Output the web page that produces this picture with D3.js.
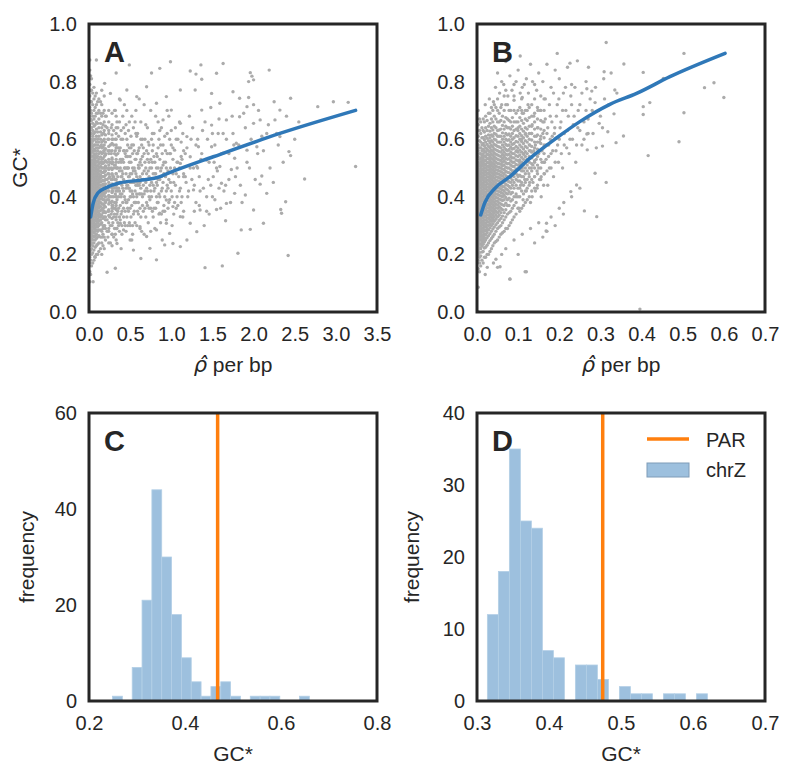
<!DOCTYPE html>
<html>
<head>
<meta charset="utf-8">
<script src="https://cdn.jsdelivr.net/npm/d3@7"></script>
<style>
body{margin:0;background:#fff}
svg text{font-family:"Liberation Sans",Arial,sans-serif;fill:#262626}
</style>
</head>
<body>
<svg id="fig" width="800" height="777"></svg>
<script>
// ---- data ----
// panel A : rho per bp (x) vs GC* (y); dense part near x=0 kept as columns [x, [y...]]
var colsA = [
  [.01, [.105,.14,.17,.19,.21,.23,.245,.26,.27,.28,.29,.3,.31,.32,.33,.34,.35,.36,.37,.38,.39,.4,.41,.42,.43,.44,.45,.46,.47,.48,.49,.5,.51,.52,.53,.545,.56,.575,.59,.61,.63,.65,.68,.71,.75,.79,.84,.875]],
  [.02, [.13,.18,.215,.235,.25,.265,.275,.285,.295,.305,.315,.325,.335,.345,.355,.365,.375,.385,.395,.405,.415,.425,.435,.445,.455,.465,.475,.485,.495,.505,.515,.525,.537,.55,.565,.58,.6,.62,.64,.67,.7,.73,.77,.82]],
  [.03, [.16,.2,.22,.24,.255,.265,.275,.285,.295,.305,.315,.325,.335,.345,.355,.365,.375,.385,.395,.405,.415,.425,.435,.445,.455,.465,.475,.485,.495,.505,.515,.525,.54,.555,.57,.585,.6,.62,.64,.665,.69,.73,.77,.81]],
  [.045, [.17,.205,.23,.25,.265,.28,.295,.305,.315,.325,.335,.345,.355,.365,.375,.385,.395,.405,.415,.425,.435,.445,.455,.465,.475,.485,.495,.505,.515,.528,.542,.558,.575,.593,.61,.63,.655,.68,.72,.76]],
  [.06, [.18,.215,.24,.26,.275,.29,.3,.31,.32,.33,.34,.35,.36,.37,.38,.39,.4,.41,.42,.43,.44,.45,.46,.47,.48,.49,.5,.51,.52,.535,.55,.565,.58,.6,.62,.645,.67,.7,.74,.78]],
  [.075, [.19,.225,.25,.265,.28,.293,.305,.318,.33,.34,.35,.36,.37,.38,.39,.4,.41,.42,.43,.44,.45,.46,.47,.48,.49,.5,.512,.527,.543,.56,.58,.6,.625,.65,.68,.71,.75]],
  [.09, [.2,.23,.255,.27,.285,.3,.315,.325,.335,.345,.355,.365,.375,.385,.395,.405,.415,.425,.435,.445,.455,.465,.475,.485,.495,.505,.52,.535,.55,.57,.59,.61,.635,.66,.69,.72,.76]],
  [.105, [.2,.235,.26,.28,.295,.308,.322,.336,.35,.362,.374,.386,.398,.41,.422,.434,.446,.458,.47,.482,.494,.508,.523,.54,.56,.58,.6,.625,.655,.69,.73]],
  [.12, [.21,.24,.265,.285,.3,.315,.33,.345,.36,.37,.38,.39,.4,.41,.42,.43,.44,.45,.46,.47,.48,.49,.5,.515,.53,.55,.57,.59,.61,.64,.67,.7,.74]],
  [.14, [.22,.26,.285,.305,.32,.338,.352,.366,.38,.392,.404,.416,.428,.44,.452,.464,.476,.49,.505,.52,.538,.556,.576,.6,.625,.655,.69,.73]],
  [.155, [.2,.24,.28,.31,.335,.355,.375,.395,.41,.425,.44,.455,.47,.485,.5,.515,.53,.55,.57,.59,.615,.64,.68,.72,.77]],
  [.17, [.23,.27,.3,.325,.345,.36,.375,.39,.405,.418,.431,.444,.457,.47,.484,.5,.516,.533,.552,.572,.595,.62,.65,.69]],
  [.185, [.22,.26,.3,.33,.35,.37,.39,.41,.425,.44,.455,.47,.485,.5,.52,.54,.56,.58,.6,.63,.66,.7,.75]],
  [.2, [.25,.29,.32,.345,.365,.383,.4,.415,.43,.445,.46,.475,.49,.507,.525,.545,.567,.59,.615,.645,.68]],
  [.24, [.24,.28,.31,.335,.355,.375,.39,.405,.42,.435,.45,.465,.48,.495,.51,.53,.55,.575,.6,.63,.66,.7]],
  [.28, [.23,.27,.3,.325,.35,.37,.385,.4,.415,.43,.445,.46,.478,.495,.515,.535,.56,.585,.615,.65,.69]],
  [.33, [.25,.29,.33,.355,.38,.4,.42,.44,.46,.48,.5,.52,.545,.57,.6,.64,.68]]
];
var ptsA = [
  [.22,.32],[.22,.52],[.22,.39],[.23,.48],[.23,.26],[.23,.56],[.24,.35],[.24,.44],[.24,.62],[.25,.38],[.25,.47],[.25,.52],[.26,.3],[.26,.4],[.26,.58],[.27,.34],[.27,.5],[.27,.55],[.28,.42],[.28,.27],[.28,.6],[.29,.37],[.29,.47],[.29,.52],[.3,.33],[.3,.4],[.3,.5],[.31,.43],[.31,.55],[.31,.29],[.32,.36],[.32,.46],[.32,.6],[.33,.44],[.33,.53],[.33,.32],[.34,.39],[.34,.5],[.34,.57],[.35,.35],[.35,.47],[.35,.64],[.36,.4],[.36,.52],[.37,.45],[.37,.56],[.37,.28],[.38,.41],[.38,.5],[.39,.34],[.39,.47],[.39,.6],[.4,.44],[.4,.53],[.4,.3],
  [.41,.38],[.41,.53],[.42,.46],[.42,.64],[.43,.4],[.43,.5],[.44,.35],[.44,.55],[.45,.43],[.45,.48],[.46,.33],[.46,.6],[.47,.44],[.47,.54],[.48,.39],[.48,.5],[.49,.57],[.49,.47],[.5,.42],[.5,.3],[.51,.52],[.51,.45],[.52,.37],[.52,.58],[.53,.5],[.53,.41],[.54,.34],[.54,.46],[.55,.56],[.56,.49],[.56,.38],[.57,.44],[.57,.53],[.58,.41],[.58,.61],[.59,.35],[.6,.46],[.6,.56],[.61,.5],[.62,.36],[.62,.45],[.63,.53],[.64,.41],[.64,.58],[.65,.48],[.66,.44],[.67,.55],[.68,.42],[.69,.5],[.7,.38],
  [.71,.46],[.72,.55],[.73,.4],[.74,.5],[.75,.36],[.76,.45],[.77,.52],[.78,.58],[.79,.42],[.8,.48],[.81,.36],[.82,.55],[.83,.44],[.84,.5],[.85,.6],[.86,.4],[.87,.49],[.88,.34],[.89,.55],[.9,.45],[.91,.52],[.92,.4],[.94,.5],[.95,.62],[.96,.36],[.97,.46],[.99,.55],[1.0,.42],[1.02,.53],[1.04,.38],[1.06,.48],[1.08,.6],[1.1,.5],[1.12,.38],[1.15,.56],
  [.3,.26],[.3,.47],[.3,.63],[.31,.34],[.31,.51],[.32,.41],[.32,.7],[.33,.37],[.33,.58],[.34,.43],[.34,.66],[.35,.31],[.35,.5],[.36,.36],[.36,.57],[.37,.42],[.37,.74],[.38,.32],[.38,.53],[.39,.4],[.39,.63],[.4,.27],[.4,.49],[.41,.43],[.41,.68],[.42,.36],[.42,.56],[.43,.31],[.43,.45],[.44,.5],[.44,.62],[.45,.38],[.45,.54],[.46,.44],[.46,.7],[.47,.3],[.47,.58],[.48,.47],[.48,.35],[.49,.52],[.49,.66],[.5,.4],[.5,.45],[.51,.33],[.51,.61],[.52,.48],[.52,.42],[.53,.55],[.53,.27],[.54,.4],[.54,.64],[.55,.45],[.55,.38],[.56,.53],[.56,.31],[.57,.48],[.57,.7],[.58,.4],[.58,.55],[.59,.44],[.59,.62],[.6,.34],[.6,.5],[.61,.41],[.61,.57],[.62,.47],[.62,.29],[.63,.43],[.63,.66],[.64,.51],
  [.65,.37],[.65,.6],[.66,.46],[.67,.41],[.67,.72],[.68,.52],[.69,.33],[.69,.45],[.7,.56],[.71,.42],[.71,.64],[.72,.49],[.73,.36],[.73,.58],[.74,.44],[.75,.53],[.75,.28],[.76,.4],[.77,.62],[.78,.48],[.79,.36],[.79,.54],[.8,.43],[.81,.68],[.82,.5],[.83,.38],[.84,.46],[.84,.57],[.85,.41],[.86,.53],[.87,.31],[.88,.47],[.88,.64],[.89,.43],[.9,.58],[.91,.48],[.92,.35],[.93,.52],[.94,.42],[.95,.7],[.96,.49],[.97,.38],[.98,.55],[.99,.45],[1.0,.63],[1.01,.4],[1.02,.57],[1.03,.34],[1.04,.5],[1.05,.44],[1.06,.6],[1.07,.52],[1.08,.37],[1.09,.47],[1.1,.66],[1.11,.43],[1.12,.54],[1.13,.4],[1.14,.62],[1.15,.35],
  [1.17,.47],[1.19,.57],[1.21,.42],[1.23,.5],[1.26,.64],[1.28,.44],[1.3,.38],[1.32,.6],[1.34,.47],[1.37,.55],[1.39,.43],[1.41,.66],[1.43,.35],[1.46,.52],[1.48,.44],[1.5,.62],[1.53,.39],[1.55,.5],[1.58,.67],[1.61,.55],[1.64,.42],[1.67,.6],[1.7,.46],[1.72,.38],[1.76,.58],[1.8,.5],[1.84,.44],[1.88,.69],[1.92,.52],[1.97,.6],[2.02,.46],[2.06,.7],[2.12,.56],[2.18,.65],[2.24,.45],[2.28,.62],[2.36,.52],[2.4,.68],[2.5,.6],[2.55,.66],
  [.14,.33],[.15,.47],[.15,.58],[.16,.26],[.16,.4],[.17,.52],[.17,.36],[.18,.44],[.18,.62],[.19,.3],[.19,.49],[.2,.38],[.2,.55],[.21,.42],[.21,.68],[.22,.28],[.22,.46],[.23,.35],[.23,.6],[.24,.5],[.24,.4],[.25,.33],[.25,.56],[.26,.44],[.26,.24],[.27,.64],[.27,.38],[.28,.48],[.28,.53],[.29,.31],[.29,.42],[.3,.58],[.3,.36],[.31,.46],[.31,.7],[.32,.27],[.32,.51],[.33,.4],[.33,.62],[.34,.34],[.34,.45],[.35,.55],[.36,.3],[.36,.43],[.37,.66],[.37,.49],[.38,.37],[.38,.57],[.39,.22],[.4,.47],[.4,.41],[.41,.6],[.42,.33],[.42,.52],[.43,.72],[.44,.39],[.44,.45],[.45,.28],[.46,.56],[.46,.5],[.47,.36],[.48,.63],[.48,.43],[.49,.31],[.5,.48],[.5,.54],[.51,.4],[.52,.68],[.52,.25],[.53,.45],[.54,.58],[.55,.35],[.55,.5],[.56,.42],[.57,.62],[.58,.3],[.58,.47],[.59,.55],[.6,.38],[.61,.44],[.61,.74],[.62,.52],[.63,.33],[.63,.6],[.64,.46],[.65,.4],[.66,.57],[.67,.27],[.67,.49],[.68,.36],[.69,.65],[.7,.43],[.71,.53],[.72,.31],[.72,.59],[.73,.47],[.74,.39],[.75,.7],[.76,.5],[.77,.35],[.77,.56],[.78,.44],[.79,.62],[.8,.29],[.81,.48],[.82,.4],[.83,.54],[.84,.66],[.85,.34],[.86,.46],[.87,.58],[.88,.42],[.89,.25],[.9,.51],[.91,.37],[.92,.61],[.93,.47],[.94,.32],[.95,.55],[.96,.43],[.97,.68],[.98,.39],[.99,.5],[1.0,.58],[1.01,.3],[1.03,.45],[1.05,.64],[1.06,.36],[1.08,.52],[1.1,.42],[1.12,.59],[1.14,.33],[1.15,.48],[1.17,.55],[1.2,.4],[1.22,.68],[1.25,.46],[1.28,.35],[1.3,.58],[1.32,.5],[1.35,.42],[1.38,.63],[1.4,.3],[1.42,.53],[1.45,.46],[1.48,.71],[1.5,.4],[1.53,.58],[1.56,.49],[1.6,.36],[1.63,.62],[1.66,.44],[1.7,.55],[1.74,.68],[1.78,.47],[1.82,.58],[1.86,.38],[1.9,.64],[1.95,.5],[2.0,.72],[2.05,.55],[2.1,.61],[2.2,.5],[2.25,.73],[2.3,.58],
  [.15,.52],[.17,.29],[.18,.56],[.2,.33],[.21,.5],[.22,.64],[.23,.43],[.24,.29],[.26,.52],[.27,.46],[.28,.36],[.29,.6],[.3,.44],[.31,.38],[.32,.56],[.33,.48],[.34,.29],[.35,.42],[.36,.61],[.37,.33],[.38,.45],[.39,.52],[.4,.35],[.41,.48],[.42,.42],[.43,.56],[.44,.3],[.45,.65],[.46,.38],[.47,.5],[.49,.43],[.5,.36],[.51,.57],[.53,.3],[.54,.49],[.56,.66],[.57,.38],[.59,.45],[.6,.51],[.62,.41],[.64,.28],[.65,.54],[.66,.35],[.68,.6],[.7,.48],[.71,.37],[.73,.52],[.75,.42],[.76,.6],[.78,.33],[.8,.52],[.82,.45],[.84,.38],[.86,.63],[.88,.5],[.9,.35],[.93,.56],[.95,.44],[.98,.6],[1.02,.48],[1.07,.4],[1.13,.53],[1.18,.45],[1.24,.6],[1.27,.5],[1.34,.37],[1.36,.53],[1.44,.6],[1.52,.52],[1.58,.43],
  [.09,.875],[.33,.83],[.49,.858],[.76,.83],[.86,.846],[.99,.869],[1.23,.837],[1.3,.826],[1.37,.808],[1.55,.829],[1.63,.863],[1.36,.858],[1.96,.831],[1.98,.819],[2.0,.806],[1.94,.8],[2.19,.84],[1.75,.765],[1.83,.742],[1.94,.745],[2.32,.701],[2.45,.742],[2.78,.713],[2.97,.73],[3.15,.728],[3.24,.505],[2.62,.462],[2.43,.557],[2.45,.543],[2.33,.356],[2.42,.196],[2.34,.343],[2.39,.383],[2.08,.444],[2.1,.472],[2.16,.412],[1.9,.406],[1.85,.285],[1.96,.287],[1.81,.204],[1.62,.16],[1.41,.154],[1.73,.495],[1.77,.534],[1.61,.447],[1.55,.356],[1.66,.317],[1.46,.34],[1.31,.279],[1.23,.308],[1.19,.25],[1.11,.227],[1.02,.238],[.94,.308],[.82,.181],[.63,.186],[.32,.152],[.22,.138],[.05,.105],[.07,.192],[.54,.215],[.74,.221],[.92,.233],[1.67,.667],[1.57,.62],[1.49,.649],[1.75,.62],[1.83,.678],[1.92,.713],[2.0,.655],[2.08,.667],[2.16,.62],[2.26,.667],[2.32,.609],[2.04,.574],[1.92,.562],[1.79,.586],[1.63,.551],[1.49,.574],[1.43,.528],[1.31,.505],[1.33,.574],[1.23,.539],[1.15,.47],[1.11,.516],[1.04,.562],[1.19,.609],[1.11,.655],[1.0,.701],[.9,.667],[.94,.748],[.82,.725],[1.37,.701],[1.29,.771],[1.49,.759],[1.59,.725],[1.11,.771],[.7,.782],[.58,.748],[.46,.771],[.38,.736],[.26,.759],[.19,.794],[1.77,.412],[1.67,.377],[2.0,.354],[2.12,.308],[1.43,.4],[1.35,.354],[1.27,.424],[1.51,.47],[1.59,.505],[1.02,.366],[1.11,.331],[.94,.389],[.86,.343],[.82,.285],[.98,.273],[.7,.262],[.62,.296],[.5,.25],[.42,.285],[.34,.238],[.38,.308]
];
var curveA = [[.02,.33],[.05,.377],[.11,.414],[.21,.432],[.38,.449],[.62,.457],[.82,.466],[.98,.484],[1.51,.539],[2.32,.62],[3.24,.70]];

// panel B
var colsB = [
  [.003, [.0,.086,.15,.18,.2,.215,.23,.245,.255,.265,.275,.285,.295,.305,.315,.325,.335,.345,.355,.365,.375,.385,.395,.405,.415,.425,.435,.445,.455,.465,.475,.49,.505,.52,.54,.56,.58,.61,.65,.7]],
  [.006, [.14,.17,.19,.207,.222,.237,.25,.26,.27,.28,.29,.3,.31,.32,.33,.34,.35,.36,.37,.38,.39,.4,.41,.42,.43,.44,.45,.46,.47,.482,.497,.512,.53,.55,.57,.595,.63,.67]],
  [.009, [.16,.195,.22,.235,.25,.262,.274,.286,.298,.31,.322,.334,.346,.358,.37,.382,.394,.406,.418,.43,.442,.454,.466,.478,.49,.505,.52,.535,.55,.57,.59,.62,.66]],
  [.012, [.18,.208,.228,.243,.256,.268,.28,.292,.304,.316,.328,.34,.352,.364,.376,.388,.4,.412,.424,.436,.448,.46,.472,.484,.497,.512,.527,.543,.56,.58,.605,.64]],
  [.015, [.17,.21,.235,.25,.265,.278,.29,.302,.314,.326,.338,.35,.362,.374,.386,.398,.41,.422,.434,.446,.458,.47,.482,.494,.506,.52,.535,.55,.565,.585,.605,.63,.67]],
  [.018, [.19,.222,.243,.258,.271,.284,.296,.308,.32,.332,.344,.356,.368,.38,.392,.404,.416,.428,.44,.452,.464,.476,.488,.5,.513,.527,.542,.558,.577,.598,.625,.66]],
  [.021, [.19,.225,.25,.268,.283,.296,.308,.32,.332,.344,.356,.368,.38,.392,.404,.416,.428,.44,.452,.464,.476,.488,.5,.512,.526,.54,.555,.57,.59,.61,.64,.68]],
  [.0245, [.2,.232,.258,.276,.29,.302,.314,.326,.338,.35,.362,.374,.386,.398,.41,.422,.434,.446,.458,.47,.482,.494,.506,.519,.533,.548,.564,.582,.603,.63,.665]],
  [.028, [.2,.24,.265,.285,.3,.313,.325,.337,.349,.361,.373,.385,.397,.409,.421,.433,.445,.457,.469,.481,.493,.505,.518,.532,.546,.56,.575,.595,.615,.645,.69]],
  [.0315, [.21,.248,.272,.292,.307,.32,.332,.344,.356,.368,.38,.392,.404,.416,.428,.44,.452,.464,.476,.488,.5,.512,.526,.54,.555,.57,.587,.605,.628,.655,.69]],
  [.035, [.22,.255,.28,.3,.315,.328,.34,.352,.364,.376,.388,.4,.412,.424,.436,.448,.46,.472,.484,.496,.508,.52,.534,.548,.562,.578,.595,.615,.64,.67,.71]],
  [.0385, [.23,.262,.288,.307,.322,.336,.348,.36,.372,.384,.396,.408,.42,.432,.444,.456,.468,.48,.492,.504,.516,.53,.544,.558,.573,.59,.61,.632,.66,.7]],
  [.042, [.24,.27,.295,.315,.33,.344,.356,.368,.38,.392,.404,.416,.428,.44,.452,.464,.476,.488,.5,.512,.525,.538,.552,.566,.582,.6,.62,.645,.68,.72]],
  [.046, [.245,.28,.303,.322,.337,.35,.362,.374,.386,.398,.41,.422,.434,.446,.458,.47,.482,.494,.506,.52,.534,.548,.563,.579,.597,.617,.64,.67,.71]],
  [.05, [.25,.29,.31,.33,.345,.36,.372,.384,.396,.408,.42,.432,.444,.456,.468,.48,.492,.504,.516,.53,.545,.56,.575,.59,.61,.63,.66,.7,.74]],
  [.054, [.26,.295,.318,.336,.352,.366,.379,.392,.405,.418,.43,.442,.454,.466,.478,.49,.502,.515,.528,.542,.557,.573,.59,.61,.632,.66,.69]],
  [.058, [.27,.3,.325,.345,.36,.375,.39,.403,.415,.427,.439,.451,.463,.475,.487,.5,.513,.526,.54,.555,.57,.59,.61,.635,.665,.71]],
  [.062, [.275,.31,.333,.355,.372,.387,.4,.412,.424,.436,.448,.46,.472,.484,.496,.508,.52,.533,.547,.562,.58,.6,.622,.648,.68]],
  [.066, [.28,.32,.345,.37,.39,.405,.42,.435,.45,.465,.48,.495,.51,.525,.54,.555,.572,.59,.61,.635,.66,.7,.75]],
  [.07, [.29,.33,.355,.378,.398,.413,.428,.443,.458,.473,.488,.503,.518,.533,.548,.564,.582,.6,.62,.645,.675,.72]],
  [.074, [.29,.34,.37,.39,.41,.425,.44,.455,.47,.485,.5,.515,.53,.545,.56,.578,.596,.615,.64,.67,.72]],
  [.078, [.3,.345,.37,.395,.418,.436,.452,.468,.484,.5,.516,.532,.548,.564,.58,.598,.618,.64,.665,.7]],
  [.082, [.31,.35,.385,.41,.43,.45,.465,.48,.495,.51,.525,.54,.556,.572,.59,.61,.635,.66,.7]],
  [.086, [.32,.36,.39,.415,.44,.458,.474,.49,.506,.52,.535,.55,.566,.582,.6,.62,.645,.675]],
  [.09, [.33,.37,.4,.43,.45,.47,.49,.505,.52,.535,.55,.568,.585,.605,.63,.66,.7,.75]],
  [.095, [.34,.38,.41,.44,.46,.48,.497,.512,.528,.543,.558,.575,.592,.612,.635,.66,.69]],
  [.0995, [.36,.4,.43,.455,.475,.495,.51,.525,.54,.555,.57,.59,.61,.63,.66,.7]],
  [.104, [.35,.4,.43,.455,.475,.495,.512,.528,.545,.562,.58,.6,.62,.645,.675,.71]],
  [.1085, [.36,.42,.45,.47,.49,.505,.52,.537,.555,.573,.592,.612,.635,.665,.7,.74]],
  [.113, [.37,.41,.44,.47,.49,.51,.53,.548,.566,.585,.605,.628,.655,.69]],
  [.1175, [.38,.42,.45,.48,.5,.52,.54,.557,.575,.595,.617,.64,.67,.7]],
  [.122, [.39,.43,.46,.49,.51,.53,.55,.57,.59,.61,.635,.665,.7]],
  [.127, [.4,.44,.47,.5,.52,.54,.56,.58,.6,.62,.645,.675,.71]],
  [.133, [.42,.46,.49,.515,.535,.555,.575,.597,.62,.645,.68,.72]],
  [.14, [.43,.47,.5,.525,.55,.57,.59,.61,.635,.66,.69,.74]],
  [.147, [.44,.48,.51,.54,.565,.59,.615,.64,.67,.71]],
  [.155, [.46,.5,.53,.56,.585,.61,.635,.665,.7,.75]],
  [.163, [.48,.52,.55,.58,.605,.63,.66,.7,.74]]
];
var ptsB = [
  [.128,.45],[.13,.56],[.132,.62],[.134,.4],[.136,.51],[.138,.68],[.14,.47],[.142,.58],[.144,.53],[.146,.43],[.148,.64],[.15,.5],[.152,.59],[.154,.7],[.156,.47],[.158,.56],[.16,.62],[.162,.44],[.164,.52],[.166,.67],[.168,.58],[.17,.49],[.172,.64],[.174,.54],[.176,.72],[.178,.6],[.18,.5],[.182,.66],[.184,.56],[.186,.76],[.188,.62],[.19,.52],[.193,.68],[.196,.58],[.199,.74],[.202,.64],[.205,.55],[.208,.7],[.212,.62],[.215,.78],[.218,.57],[.222,.68],[.226,.6],[.23,.72],[.234,.65],[.238,.78],[.242,.58],[.246,.7],[.25,.63],[.255,.76],[.26,.6],[.265,.7],[.27,.67],[.275,.74],[.282,.62],[.288,.78],[.295,.7],[.305,.64],[.32,.72],[.34,.76],
  [.095,.4],[.097,.56],[.1,.47],[.1,.64],[.102,.36],[.104,.52],[.106,.44],[.108,.6],[.11,.5],[.11,.69],[.112,.39],[.114,.55],[.116,.46],[.118,.62],[.12,.42],[.122,.53],[.124,.72],[.126,.48],[.128,.58],[.13,.38],[.132,.5],[.134,.65],[.136,.45],[.138,.56],[.14,.52],[.142,.42],[.144,.61],[.146,.49],[.148,.7],[.15,.55],[.152,.46],[.154,.6],[.156,.4],[.158,.52],[.16,.66],[.162,.57],[.164,.48],[.166,.74],[.168,.53],[.17,.62],[.172,.44],[.174,.58],[.176,.5],[.178,.68],[.18,.55],[.183,.61],[.186,.47],[.189,.64],[.192,.56],[.195,.72],[.198,.52],[.2,.6],[.204,.66],[.208,.5],[.212,.58],[.216,.7],[.22,.63],[.224,.55],[.228,.75],[.232,.6],[.236,.68],[.24,.52],[.245,.64],[.25,.72],[.255,.58],[.26,.66],[.265,.8],[.27,.62],[.28,.7],[.29,.57],[.3,.68],[.31,.74],
  [.055,.76],[.065,.79],[.075,.75],[.085,.77],[.095,.8],[.105,.76],[.115,.79],[.125,.76],[.135,.8],[.145,.77],[.04,.73],[.02,.72],[.06,.72],[.09,.735],[.11,.745],
  [.03,.74],[.045,.78],[.06,.8],[.07,.77],[.08,.82],[.09,.79],[.1,.84],[.11,.78],[.12,.81],[.13,.86],[.14,.79],[.15,.83],[.16,.8],[.17,.86],[.18,.78],[.19,.84],[.2,.81],[.21,.76],[.22,.85],[.23,.79],[.05,.83],[.07,.87],
  [.02,.13],[.04,.17],[.05,.155],[.06,.2],[.07,.22],[.08,.115],[.09,.25],[.1,.2],[.11,.27],[.12,.14],[.13,.29],[.14,.24],[.15,.31],[.16,.26],[.17,.28],[.18,.33],[.19,.3],[.2,.36],[.21,.34],[.23,.4],[.25,.43],
  [.314,.936],[.503,.898],[.576,.796],[.553,.779],[.6,.745],[.503,.692],[.491,.591],[.416,.543],[.404,.713],[.404,.686],[.42,.727],[.453,.811],[.404,.832],[.357,.861],[.309,.834],[.326,.83],[.308,.81],[.335,.771],[.333,.688],[.356,.611],[.318,.626],[.338,.588],[.305,.576],[.314,.45],[.291,.331],[.261,.351],[.396,.01],[.08,.114],[.105,.889],[.195,.898],[.244,.872],[.271,.85],[.226,.864],[.279,.767],[.267,.775],[.287,.727],[.297,.655],[.267,.618],[.268,.563],[.287,.482],[.242,.441],[.228,.418],[.211,.38],[.168,.281],[.169,.308],[.117,.14],[.056,.157],[.025,.155],[.046,.183]
];
var curveB = [[.009,.337],[.019,.38],[.044,.43],[.08,.47],[.129,.534],[.194,.605],[.25,.661],[.323,.721],[.388,.759],[.469,.817],[.603,.898]];

// panel C / D histograms (20 bins each)
var countsC = [1,0,7,21,44,30,18,9,4,1,3,4,1,0,1,1,1,0,0,1];
var binStartC = 0.249, binWidthC = 0.0205;
var parC = 0.468;
var countsD = [12,18,35,25,24,7,6,0,5,5,3,0,2,1,1,0,1,1,0,1];
var binStartD = 0.3144, binWidthD = 0.01528;
var parD = 0.4746;

var ticksAx = [0,.5,1,1.5,2,2.5,3,3.5];
var ticksBx = [0,.1,.2,.3,.4,.5,.6,.7];
var ticksGC = [0,.2,.4,.6,.8,1];
var ticksCx = [.2,.4,.6,.8];
var ticksCy = [0,20,40,60];
var ticksDx = [.3,.4,.5,.6,.7];
var ticksDy = [0,10,20,30,40];

// ---- drawing ----
var svg = d3.select("#fig");
var size = 288;
var f1 = d3.format(".1f");
var fInt = d3.format("d");
var scatterGrey = "#ababab", lineBlue = "#2f78b8", orange = "#ff7f0e", barBlue = "#9dc0de";

function makePanel(id, left, top, xDomain, yDomain, xTicks, yTicks, xFmt, yFmt) {
  var g = svg.append("g").attr("transform", "translate(" + left + "," + top + ")");
  var x = d3.scaleLinear().domain(xDomain).range([0, size]);
  var y = d3.scaleLinear().domain(yDomain).range([size, 0]);

  g.append("clipPath").attr("id", "clip" + id)
    .append("rect").attr("width", size).attr("height", size);

  g.append("g").attr("transform", "translate(0," + size + ")")
    .call(d3.axisBottom(x).tickValues(xTicks).tickFormat(xFmt).tickSize(0).tickPadding(15))
    .attr("font-size", 20)
    .call(function(a){ a.select(".domain").remove(); });

  g.append("g")
    .call(d3.axisLeft(y).tickValues(yTicks).tickFormat(yFmt).tickSize(0).tickPadding(12))
    .attr("font-size", 20)
    .call(function(a){ a.select(".domain").remove(); });

  var plot = g.append("g").attr("clip-path", "url(#clip" + id + ")");
  return {g: g, plot: plot, x: x, y: y};
}

function flatten(cols, pts) {
  var out = [];
  cols.forEach(function(c){ c[1].forEach(function(v){ out.push([c[0], v]); }); });
  return out.concat(pts);
}

function scatter(p, data, curve) {
  p.plot.selectAll("circle").data(data).enter().append("circle")
    .attr("cx", function(d){ return p.x(d[0]); })
    .attr("cy", function(d){ return p.y(d[1]); })
    .attr("r", 1.7)
    .attr("fill", scatterGrey);
  var line = d3.line()
    .x(function(d){ return p.x(d[0]); })
    .y(function(d){ return p.y(d[1]); })
    .curve(d3.curveMonotoneX);
  p.plot.append("path").datum(curve)
    .attr("d", line)
    .attr("fill", "none")
    .attr("stroke", lineBlue)
    .attr("stroke-width", 3.5)
    .attr("stroke-linecap", "round");
}

function hist(p, counts, start, width, par) {
  var bins = counts.map(function(c, i){ return {n: c, x0: start + i * width, x1: start + (i + 1) * width}; })
    .filter(function(b){ return b.n > 0; });
  p.plot.selectAll("rect.bar").data(bins).enter()
    .append("rect").attr("class", "bar")
    .attr("x", function(b){ return p.x(b.x0); })
    .attr("width", function(b){ return p.x(b.x1) - p.x(b.x0); })
    .attr("y", function(b){ return p.y(b.n); })
    .attr("height", function(b){ return p.y(0) - p.y(b.n); })
    .attr("fill", barBlue)
    .attr("stroke", "#b3cfe6")
    .attr("stroke-width", 0.8);
  p.plot.append("line")
    .attr("x1", p.x(par)).attr("x2", p.x(par))
    .attr("y1", 0).attr("y2", size)
    .attr("stroke", orange).attr("stroke-width", 3.5);
}

function finish(p, letter) {
  p.g.append("rect").attr("width", size).attr("height", size)
    .attr("fill", "none").attr("stroke", "#262626").attr("stroke-width", 3);
  p.g.append("text").attr("x", 15).attr("y", 38)
    .attr("font-size", 29).style("font-weight", "bold").text(letter);
}

function rhoLabel(p) {
  var t = p.g.append("text").attr("x", size / 2).attr("y", size + 60)
    .attr("text-anchor", "middle").attr("font-size", 21);
  t.append("tspan").style("font-family", "'DejaVu Sans'").style("font-style", "italic").text("\u03C1\u0302");
  t.append("tspan").text(" per bp");
}

function yLabel(p, text, offset) {
  p.g.append("text")
    .attr("transform", "translate(" + offset + "," + size / 2 + ") rotate(-90)")
    .attr("text-anchor", "middle").attr("font-size", 21).text(text);
}

// A
var pA = makePanel("A", 89, 24, [0, 3.5], [0, 1], ticksAx, ticksGC, f1, f1);
scatter(pA, flatten(colsA, ptsA), curveA);
finish(pA, "A");
rhoLabel(pA);
yLabel(pA, "GC*", -62);

// B
var pB = makePanel("B", 477, 24, [0, 0.7], [0, 1], ticksBx, ticksGC, f1, f1);
scatter(pB, flatten(colsB, ptsB), curveB);
finish(pB, "B");
rhoLabel(pB);

// C
var pC = makePanel("C", 89, 413, [0.2, 0.8], [0, 60], ticksCx, ticksCy, f1, fInt);
hist(pC, countsC, binStartC, binWidthC, parC);
finish(pC, "C");
pC.g.append("text").attr("x", size / 2).attr("y", size + 60).attr("text-anchor", "middle").attr("font-size", 21).text("GC*");
yLabel(pC, "frequency", -55);

// D
var pD = makePanel("D", 477, 413, [0.3, 0.7], [0, 40], ticksDx, ticksDy, f1, fInt);
hist(pD, countsD, binStartD, binWidthD, parD);
finish(pD, "D");
pD.g.append("text").attr("x", size / 2).attr("y", size + 60).attr("text-anchor", "middle").attr("font-size", 21).text("GC*");
yLabel(pD, "frequency", -58);

// legend in D
var legend = pD.g.append("g").attr("transform", "translate(170,26)");
legend.append("line").attr("x1", 0).attr("x2", 42).attr("y1", 0).attr("y2", 0)
  .attr("stroke", orange).attr("stroke-width", 3.5);
legend.append("text").attr("x", 59).attr("y", 7.5).attr("font-size", 20).text("PAR");
legend.append("rect").attr("x", 0).attr("y", 24).attr("width", 42).attr("height", 14)
  .attr("fill", barBlue).attr("stroke", "#7f9cb8").attr("stroke-width", 1);
legend.append("text").attr("x", 59).attr("y", 38).attr("font-size", 20).text("chrZ");
</script>
</body>
</html>
